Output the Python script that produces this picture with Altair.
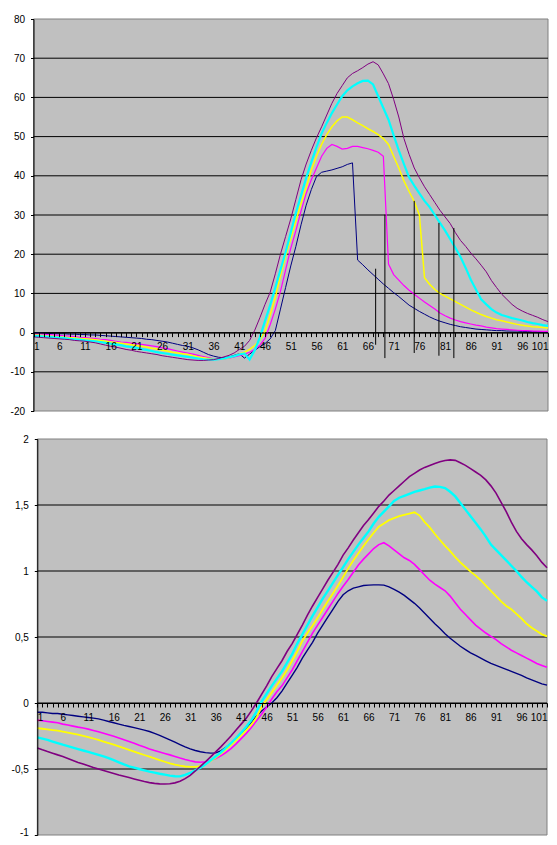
import altair as alt
import pandas as pd

# ---------------- data ----------------
CATEGORIES = list(range(1, 102))
SERIES = ["Reihe1", "Reihe2", "Reihe3", "Reihe4", "Reihe5"]
COLORS = ["#000080", "#FF00FF", "#FFFF00", "#00FFFF", "#800080"]

TOP_S1 = [-0.1, -0.1, -0.2, -0.2, -0.3, -0.3, -0.3, -0.4, -0.4, -0.5,
          -0.5, -0.6, -0.6, -0.7, -0.8, -0.9, -1.0, -1.1, -1.2, -1.3,
          -1.4, -1.5, -1.7, -1.8, -2.0, -2.2, -2.4, -2.7, -3.0, -3.3,
          -3.5, -3.9, -4.4, -5.0, -5.6, -6.0, -6.3, -6.4, -6.2, -5.8,
          -5.4, -6.5, -5.5, -4.5, -3.6, -2.8, -1.6, 0.5, 6.0, 11.5,
          17.0, 22.0, 27.5, 32.5, 36.5, 39.8, 40.9, 41.2, 41.5, 41.9,
          42.3, 42.9, 43.3, 18.5, 17.3, 16.0, 14.8, 13.6, 12.4, 11.3,
          10.2, 9.2, 8.1, 7.0, 6.2, 5.4, 4.7, 4.0, 3.4, 2.9,
          2.5, 2.1, 1.8, 1.5, 1.3, 1.1, 0.9, 0.8, 0.7, 0.6,
          0.5, 0.5, 0.4, 0.4, 0.4, 0.3, 0.3, 0.3, 0.2, 0.2,
          0.2]
TOP_S2 = [-0.3, -0.3, -0.4, -0.5, -0.6, -0.7, -0.8, -0.9, -1.0, -1.2,
          -1.3, -1.4, -1.5, -1.7, -1.8, -2.0, -2.2, -2.4, -2.5, -2.7,
          -2.8, -3.0, -3.2, -3.4, -3.6, -3.9, -4.1, -4.4, -4.7, -5.0,
          -5.2, -5.5, -5.8, -6.1, -6.4, -6.7, -6.8, -6.7, -6.5, -6.2,
          -5.9, -5.5, -5.0, -4.3, -3.2, -1.5, 2.0, 6.0, 10.5, 16.0,
          21.5, 26.0, 31.0, 35.5, 39.0, 42.0, 45.0, 47.0, 48.0, 47.5,
          46.8, 47.0, 47.5, 47.5, 47.2, 46.9, 46.5, 46.0, 45.0, 17.5,
          14.8, 13.4, 12.0, 10.8, 9.8, 8.8, 7.8, 6.9, 6.0, 5.0,
          4.3, 3.7, 3.2, 2.8, 2.5, 2.2, 1.9, 1.7, 1.4, 1.2,
          1.0, 0.9, 0.8, 0.7, 0.6, 0.5, 0.5, 0.4, 0.4, 0.3,
          0.3]
TOP_S3 = [-0.7, -0.7, -0.8, -0.9, -1.0, -1.1, -1.2, -1.3, -1.4, -1.5,
          -1.6, -1.7, -1.8, -2.0, -2.2, -2.4, -2.5, -2.7, -2.9, -3.1,
          -3.3, -3.5, -3.7, -4.0, -4.2, -4.5, -4.7, -5.0, -5.2, -5.4,
          -5.6, -5.9, -6.2, -6.4, -6.6, -6.8, -6.8, -6.7, -6.4, -6.0,
          -5.5, -5.0, -4.3, -3.3, -1.8, 0.3, 4.5, 9.0, 14.5, 19.5,
          24.0, 28.5, 33.0, 37.0, 41.5, 45.0, 48.0, 50.5, 52.5, 54.0,
          55.0, 55.0, 54.3, 53.5, 52.8, 52.0, 51.3, 50.5, 49.5, 48.0,
          45.0, 42.0, 38.7, 36.0, 33.5, 30.0, 14.0, 12.3, 11.0, 10.0,
          9.3, 8.6, 7.9, 7.2, 6.5, 5.8, 5.2, 4.6, 4.1, 3.7,
          3.3, 3.0, 2.7, 2.4, 2.1, 1.9, 1.7, 1.5, 1.4, 1.3,
          1.2]
TOP_S4 = [-0.9, -0.9, -1.0, -1.1, -1.2, -1.3, -1.4, -1.6, -1.7, -1.8,
          -2.0, -2.1, -2.2, -2.4, -2.6, -2.8, -3.0, -3.2, -3.5, -3.7,
          -3.9, -4.2, -4.4, -4.7, -5.0, -5.2, -5.4, -5.6, -5.8, -6.0,
          -6.2, -6.4, -6.6, -6.8, -6.9, -6.9, -6.8, -6.6, -6.3, -6.0,
          -5.6, -5.3, -6.9, -4.5, -1.2, 3.0, 7.0, 11.5, 16.0, 20.5,
          25.5, 30.5, 35.0, 39.5, 43.5, 47.3, 50.8, 53.5, 56.0, 58.2,
          60.3, 61.8, 62.8, 63.6, 64.2, 64.3, 63.3, 60.3, 57.3, 54.3,
          50.3, 46.5, 43.0, 39.6, 37.5, 35.5, 33.6, 32.0, 30.0, 28.0,
          26.0, 23.8, 21.6, 19.3, 16.5, 13.5, 11.0, 8.5, 7.2, 6.0,
          5.1, 4.5, 4.1, 3.7, 3.4, 3.1, 2.7, 2.4, 2.2, 1.9,
          1.7]
TOP_S5 = [-1.1, -1.2, -1.3, -1.4, -1.5, -1.6, -1.7, -1.8, -2.0, -2.1,
          -2.2, -2.4, -2.6, -2.9, -3.2, -3.5, -3.7, -4.0, -4.3, -4.5,
          -4.8, -5.0, -5.2, -5.4, -5.6, -5.9, -6.1, -6.3, -6.5, -6.7,
          -6.9, -7.0, -7.1, -7.1, -7.0, -6.9, -6.6, -6.2, -5.8, -5.2,
          -4.3, -3.5, -2.0, 0.6, 3.8, 7.2, 10.3, 15.0, 20.0, 24.5,
          29.0, 34.0, 39.0, 43.0, 46.5, 49.7, 52.5, 55.5, 58.5, 61.0,
          63.0, 65.0, 66.1, 66.8, 67.6, 68.5, 69.1, 68.3, 66.0, 63.5,
          59.5, 55.0, 49.5, 45.5, 42.0, 39.5, 37.2, 35.2, 33.2, 31.2,
          29.5, 27.8, 25.5, 23.5, 22.0, 20.3, 18.8, 17.2, 15.5, 13.3,
          11.5, 9.8, 8.5, 7.2, 6.2, 5.5, 4.9, 4.4, 3.9, 3.3,
          2.8]

RULE_X = [67.5, 69.3, 75.0, 79.8, 82.7]
RULE_TOP = [16.3, 30.1, 33.6, 28.0, 26.7]
RULE_BOTTOM = [-3.1, -6.5, -5.2, -5.9, -6.5]

BOT_S1 = [-0.07, -0.07, -0.075, -0.08, -0.08, -0.085, -0.09, -0.095, -0.10, -0.105,
          -0.11, -0.115, -0.12, -0.13, -0.14, -0.15, -0.16, -0.17, -0.178, -0.187,
          -0.196, -0.205, -0.216, -0.23, -0.245, -0.262, -0.279, -0.297, -0.315, -0.333,
          -0.348, -0.36, -0.369, -0.376, -0.38, -0.378, -0.362, -0.336, -0.308, -0.27,
          -0.23, -0.19, -0.145, -0.10, -0.06, -0.03, 0.0, 0.04, 0.09, 0.15,
          0.21, 0.27, 0.34, 0.40, 0.46, 0.53, 0.59, 0.65, 0.71, 0.77,
          0.82, 0.85, 0.87, 0.88, 0.89, 0.893, 0.895, 0.895, 0.893, 0.88,
          0.86, 0.84, 0.815, 0.785, 0.755, 0.72, 0.68, 0.64, 0.60, 0.565,
          0.525, 0.49, 0.46, 0.43, 0.405, 0.38, 0.36, 0.34, 0.32, 0.30,
          0.285, 0.27, 0.255, 0.24, 0.225, 0.21, 0.19, 0.175, 0.16, 0.145,
          0.135]
BOT_S2 = [-0.13, -0.135, -0.14, -0.145, -0.15, -0.16, -0.167, -0.175, -0.183, -0.19,
          -0.198, -0.208, -0.218, -0.229, -0.24, -0.252, -0.265, -0.278, -0.291, -0.305,
          -0.32, -0.334, -0.348, -0.36, -0.371, -0.382, -0.393, -0.405, -0.417, -0.428,
          -0.438, -0.446, -0.449, -0.445, -0.435, -0.42, -0.40, -0.375, -0.345, -0.31,
          -0.27, -0.23, -0.185, -0.135, -0.085, -0.03, 0.03, 0.085, 0.13, 0.19,
          0.25, 0.32, 0.39, 0.46, 0.53, 0.59, 0.65, 0.71, 0.77, 0.83,
          0.885, 0.935, 0.99, 1.045, 1.09, 1.13, 1.17, 1.20, 1.214, 1.19,
          1.16, 1.13, 1.10, 1.08, 1.05, 1.01, 0.97, 0.93, 0.90, 0.875,
          0.85, 0.81, 0.76, 0.71, 0.67, 0.63, 0.59, 0.56, 0.53, 0.505,
          0.48, 0.45, 0.425, 0.40, 0.38, 0.36, 0.34, 0.32, 0.30, 0.285,
          0.27]
BOT_S3 = [-0.19, -0.195, -0.20, -0.205, -0.21, -0.216, -0.224, -0.232, -0.24, -0.249,
          -0.258, -0.269, -0.28, -0.292, -0.304, -0.316, -0.329, -0.342, -0.355, -0.368,
          -0.381, -0.394, -0.406, -0.419, -0.432, -0.445, -0.457, -0.467, -0.475, -0.481,
          -0.484, -0.484, -0.478, -0.462, -0.44, -0.415, -0.385, -0.352, -0.318, -0.282,
          -0.245, -0.205, -0.165, -0.11, -0.03, 0.025, 0.08, 0.135, 0.19, 0.25,
          0.32, 0.39, 0.47, 0.53, 0.585, 0.645, 0.71, 0.77, 0.83, 0.89,
          0.955, 1.02, 1.08, 1.135, 1.19, 1.24, 1.29, 1.335, 1.36, 1.385,
          1.40, 1.415, 1.425, 1.435, 1.445, 1.42, 1.37, 1.33, 1.28, 1.235,
          1.19, 1.15, 1.105, 1.065, 1.03, 0.995, 0.965, 0.93, 0.89, 0.85,
          0.81, 0.77, 0.735, 0.71, 0.675, 0.64, 0.60, 0.57, 0.545, 0.52,
          0.505]
BOT_S4 = [-0.26, -0.27, -0.28, -0.292, -0.304, -0.316, -0.327, -0.338, -0.349, -0.36,
          -0.37, -0.381, -0.393, -0.405, -0.418, -0.433, -0.449, -0.465, -0.48, -0.49,
          -0.50, -0.51, -0.52, -0.528, -0.536, -0.543, -0.55, -0.555, -0.556, -0.545,
          -0.53, -0.51, -0.49, -0.465, -0.435, -0.405, -0.375, -0.34, -0.305, -0.265,
          -0.225, -0.18, -0.13, -0.065, 0.01, 0.07, 0.13, 0.185, 0.24, 0.305,
          0.37, 0.45, 0.52, 0.59, 0.66, 0.725, 0.79, 0.85, 0.91, 0.97,
          1.03, 1.09, 1.145, 1.20, 1.25, 1.30, 1.36, 1.41, 1.45, 1.49,
          1.53, 1.555, 1.57, 1.585, 1.60, 1.61, 1.62, 1.632, 1.64, 1.637,
          1.628, 1.60, 1.565, 1.515, 1.465, 1.415, 1.365, 1.315, 1.26, 1.20,
          1.16, 1.12, 1.08, 1.04, 1.00, 0.955, 0.915, 0.88, 0.845, 0.80,
          0.775]
BOT_S5 = [-0.34, -0.355, -0.368, -0.38, -0.393, -0.405, -0.42, -0.435, -0.45, -0.462,
          -0.475, -0.488, -0.50, -0.512, -0.523, -0.534, -0.545, -0.555, -0.565, -0.575,
          -0.585, -0.595, -0.603, -0.609, -0.613, -0.614, -0.612, -0.605, -0.592, -0.573,
          -0.548, -0.515, -0.48, -0.445, -0.408, -0.37, -0.332, -0.292, -0.25, -0.205,
          -0.16, -0.115, -0.06, 0.0, 0.065, 0.13, 0.20, 0.26, 0.32, 0.39,
          0.45, 0.52, 0.59, 0.665, 0.735, 0.80, 0.865, 0.93, 0.99, 1.05,
          1.12, 1.175, 1.235, 1.29, 1.345, 1.39, 1.44, 1.49, 1.53, 1.575,
          1.61, 1.645, 1.68, 1.715, 1.74, 1.765, 1.785, 1.80, 1.815, 1.828,
          1.837, 1.842, 1.838, 1.82, 1.80, 1.775, 1.75, 1.725, 1.69, 1.645,
          1.59, 1.52, 1.45, 1.37, 1.30, 1.245, 1.20, 1.16, 1.115, 1.065,
          1.025]

TOP_TICKS = [-20, -10, 0, 10, 20, 30, 40, 50, 60, 70, 80]
BOT_TICKS = [-1, -0.5, 0, 0.5, 1, 1.5, 2]
TOP_GRID = [-10, 0, 10, 20, 30, 40, 50, 60, 70]
BOT_GRID = [-0.5, 0, 0.5, 1, 1.5]

FONT = "Liberation Sans"

# ---------------- layout (pixels inside the drawing area) ----------------
W = 515
H = 817
TOP_XR = [-0.5, 514]
BOT_XR = [3.3, 513]
TOP_YR = [392, 0]
BOT_YR = [816, 420]


def zero_pos(yr, dom):
    return yr[0] + (yr[1] - yr[0]) * (0 - dom[0]) / (dom[1] - dom[0])


def panel(all_values, ydom, yticks, grid_vals, ylabel_expr, xr, yr, widths, rules_df):
    x_enc = alt.X(
        "c:Q",
        title=None,
        scale=alt.Scale(domain=[1, 101], range=xr, nice=False, zero=False),
        axis=alt.Axis(
            orient="bottom",
            values=CATEGORIES,
            labelExpr="(datum.value - 1) % 5 == 0 ? '' + datum.value : ''",
            labelOverlap=False,
            labelFlush=True,
            labelFlushOffset=0,
            grid=False,
            offset=zero_pos(yr, ydom) - H,
            domainColor="#000000",
            tickColor="#000000",
            tickSize=4,
            labelPadding=5,
            labelFont=FONT,
            labelFontSize=10,
            labelColor="#000000",
            zindex=1,
        ),
    )
    y_enc = alt.Y(
        "v:Q",
        title=None,
        scale=alt.Scale(domain=ydom, range=yr, nice=False, zero=False),
        axis=alt.Axis(
            orient="left",
            offset=-xr[0],
            values=yticks,
            labelExpr=ylabel_expr,
            labelOverlap=False,
            grid=False,
            labelBaseline={
                "condition": {"test": "datum.value == -1", "value": "alphabetic"},
                "value": "middle",
            },
            domainColor="#000000",
            tickColor="#000000",
            tickSize=3,
            labelPadding=6,
            labelFont=FONT,
            labelFontSize=10,
            labelColor="#000000",
            zindex=1,
        ),
    )
    bg = pd.DataFrame({"c": [1], "c2": [101], "v": [ydom[0]], "v2": [ydom[1]]})
    grid = pd.DataFrame({"c": [1] * len(grid_vals), "c2": [101] * len(grid_vals), "v": grid_vals})
    layers = [
        alt.Chart(bg).mark_rect(fill="#C0C0C0", stroke="#808080", strokeWidth=1)
        .encode(x=x_enc, x2="c2:Q", y=y_enc, y2="v2:Q"),
        alt.Chart(grid).mark_rule(color="#000000", strokeWidth=1)
        .encode(x=x_enc, x2="c2:Q", y=y_enc),
    ]
    for vals, name, color, w in zip(all_values, SERIES, COLORS, widths):
        df = pd.DataFrame({"c": CATEGORIES, "v": vals, "s": name})
        layers.append(
            alt.Chart(df).mark_line(color=color, strokeWidth=w).encode(x=x_enc, y=y_enc)
        )
    if rules_df is not None:
        layers.append(
            alt.Chart(rules_df).mark_rule(color="#000000", strokeWidth=1)
            .encode(x=x_enc, y=y_enc, y2="v2:Q")
        )
    return alt.layer(*layers)


top_rules = pd.DataFrame({"c": RULE_X, "v": RULE_TOP, "v2": RULE_BOTTOM})

top = panel(
    [TOP_S1, TOP_S2, TOP_S3, TOP_S4, TOP_S5],
    [-20, 80], TOP_TICKS, TOP_GRID, "'' + datum.value",
    TOP_XR, TOP_YR, [1, 1.2, 1.5, 2.2, 1], top_rules,
)
bottom = panel(
    [BOT_S1, BOT_S2, BOT_S3, BOT_S4, BOT_S5],
    [-1, 2], BOT_TICKS, BOT_GRID, "replace('' + datum.value, '.', ',')",
    BOT_XR, BOT_YR, [1.4, 1.6, 1.8, 2.4, 1.6], None,
)

chart = (
    alt.layer(top, bottom)
    .resolve_scale(x="independent", y="independent")
    .properties(
        width=W,
        height=H,
        autosize=alt.AutoSizeParams(type="none"),
        padding={"left": 26, "top": 11, "right": 0, "bottom": 0},
    )
    .configure_view(strokeWidth=0, fill="#FFFFFF")
)

chart.save("out.html", embed_options={"renderer": "svg", "actions": False})
